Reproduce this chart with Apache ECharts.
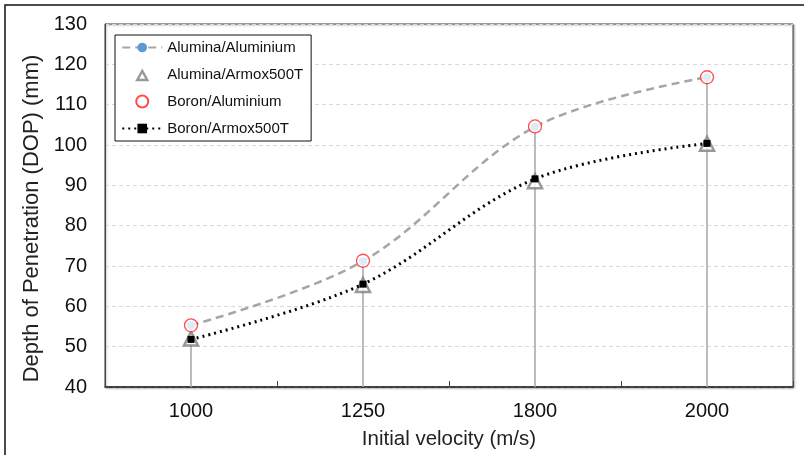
<!DOCTYPE html>
<html>
<head>
<meta charset="utf-8">
<script src="https://cdn.jsdelivr.net/npm/echarts@6/dist/echarts.min.js"></script>
<style>
html,body{margin:0;padding:0;background:#fff;}
#c{width:804px;height:455px;}
</style>
</head>
<body>
<div id="c"></div>
<script>
var categories = ['1000', '1250', '1800', '2000'];
var aluminaAluminium = [55.3, 71.2, 104.5, 116.8];
var aluminaArmox = [52.0, 65.3, 91.0, 100.3];
var boronAluminium = [55.3, 71.3, 104.6, 116.8];
var boronArmox = [51.8, 65.5, 91.6, 100.4];
var yTicks = {min: 40, max: 130, interval: 10};

var FONT = '"Liberation Sans", Arial, sans-serif';

var dropLines = categories.map(function (c, i) {
  var top = Math.max(aluminaAluminium[i], aluminaArmox[i], boronAluminium[i], boronArmox[i]);
  return [{coord: [i, top]}, {coord: [i, yTicks.min]}];
});

var chart = echarts.init(document.getElementById('c'));
chart.setOption({
  animation: false,
  backgroundColor: '#fff',
  textStyle: {fontFamily: FONT},
  graphic: [{
    type: 'rect',
    shape: {x: 5, y: 5, width: 900, height: 600},
    style: {fill: 'none', stroke: '#111', lineWidth: 1.5},
    silent: true
  }],
  grid: {
    left: 105, right: 11, top: 24, bottom: 68,
    show: true, borderColor: '#444', borderWidth: 1,
    backgroundColor: '#fff',
    shadowColor: 'rgba(0,0,0,0.35)', shadowBlur: 2, shadowOffsetX: 1, shadowOffsetY: 1
  },
  legend: {
    orient: 'vertical',
    left: 115, top: 35,
    backgroundColor: '#fff',
    borderColor: '#111', borderWidth: 1,
    padding: [5, 8, 5, 6],
    itemWidth: 40, itemHeight: 12, itemGap: 12,
    textStyle: {fontSize: 15, color: '#111', fontFamily: FONT},
    data: [
      {name: 'Alumina/Aluminium'},
      {name: 'Alumina/Armox500T', icon: 'path://M0,0 M40,12 M15,11.5 L20,2.5 L25,11.5 Z', itemStyle: {borderWidth: 2.5}},
      {name: 'Boron/Aluminium', icon: 'circle'},
      {name: 'Boron/Armox500T'}
    ]
  },
  xAxis: {
    type: 'category',
    data: categories,
    boundaryGap: true,
    name: 'Initial velocity (m/s)',
    nameLocation: 'middle',
    nameGap: 42,
    nameTextStyle: {fontSize: 20.5, color: '#222', fontFamily: FONT},
    axisLine: {lineStyle: {color: '#222', width: 1.5}},
    axisTick: {show: true, inside: true, length: 6, interval: 0, lineStyle: {color: '#444'}},
    axisLabel: {fontSize: 20, color: '#111', margin: 14, fontFamily: FONT},
    splitLine: {show: false}
  },
  yAxis: {
    type: 'value',
    min: yTicks.min, max: yTicks.max, interval: yTicks.interval,
    name: 'Depth of Penetration (DOP) (mm)',
    nameLocation: 'middle',
    nameRotate: 90,
    nameGap: 48,
    nameTextStyle: {fontSize: 22, color: '#222', fontFamily: FONT, padding: [0, 26, 0, 0]},
    axisLine: {show: true, lineStyle: {color: '#444', width: 1}},
    axisTick: {show: false},
    axisLabel: {fontSize: 20, color: '#111', margin: 18, fontFamily: FONT},
    splitLine: {show: true, lineStyle: {color: '#d9d9d9', type: [4, 3], width: 1}}
  },
  series: [
    {
      name: 'Alumina/Aluminium',
      type: 'line',
      data: aluminaAluminium,
      smooth: 0.35,
      symbol: 'circle', symbolSize: 8,
      itemStyle: {color: '#5b9bd5'},
      lineStyle: {color: '#a6a6a6', width: 2.5, type: [8, 5]},
      z: 3,
      markLine: {
        silent: true,
        symbol: ['none', 'none'],
        label: {show: false},
        lineStyle: {color: '#a6a6a6', width: 1.5, type: 'solid'},
        data: dropLines,
        z: 1
      }
    },
    {
      name: 'Alumina/Armox500T',
      type: 'scatter',
      data: aluminaArmox,
      symbol: 'triangle', symbolSize: 14,
      itemStyle: {color: '#fff', borderColor: '#7f7f7f', borderWidth: 2.5},
      z: 4
    },
    {
      name: 'Boron/Aluminium',
      type: 'scatter',
      data: boronAluminium,
      symbol: 'circle', symbolSize: 13,
      itemStyle: {color: '#fff', borderColor: '#ff2020', borderWidth: 1.3},
      z: 5
    },
    {
      name: 'Boron/Armox500T',
      type: 'line',
      data: boronArmox,
      smooth: 0.35,
      symbol: 'rect', symbolSize: 7,
      itemStyle: {color: '#000'},
      lineStyle: {color: '#000', width: 3, type: [2, 4]},
      z: 6
    }
  ]
});
</script>
</body>
</html>
